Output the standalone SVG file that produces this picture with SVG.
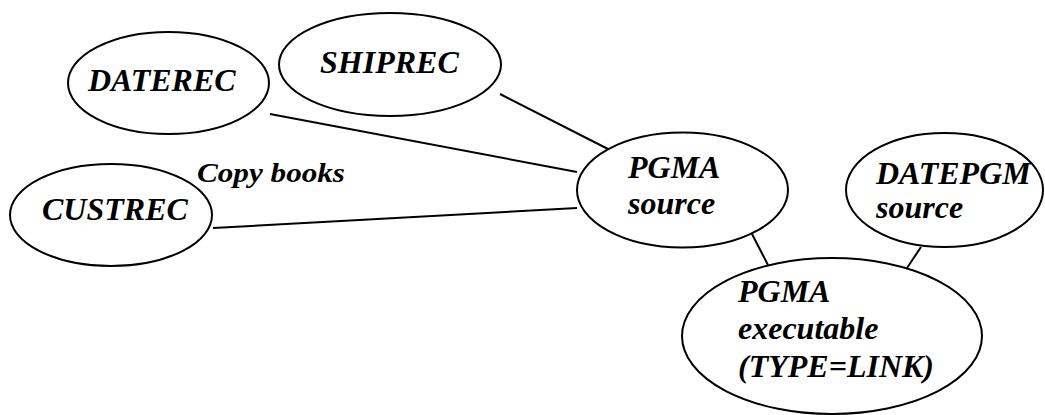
<svg xmlns="http://www.w3.org/2000/svg" width="1045" height="415" viewBox="0 0 1045 415">
<style>
.n{fill:#fff;stroke:#000;stroke-width:2}
.t{font-family:'Liberation Serif','Times New Roman',Times,'DejaVu Serif',serif;font-weight:700;font-style:italic;font-size:32px;fill:#000}
.c{stroke:#000;stroke-width:2;fill:none}
</style>
<rect width="1045" height="415" fill="#fff"/>
<g id="connectors">
<line class="c" x1="270" y1="114" x2="577" y2="172"/>
<line class="c" x1="500" y1="94" x2="608" y2="149"/>
<line class="c" x1="213" y1="228" x2="577" y2="208"/>
<line class="c" x1="752" y1="234" x2="768" y2="265"/>
<line class="c" x1="921" y1="247" x2="907" y2="268"/>
</g>
<g id="daterec"><ellipse class="n" cx="168.5" cy="83" rx="100.5" ry="51"/><text class="t" x="88" y="91">DATEREC</text></g>
<g id="shiprec"><ellipse class="n" cx="390" cy="64.5" rx="111" ry="51.5"/><text class="t" x="320" y="73">SHIPREC</text></g>
<g id="custrec"><ellipse class="n" cx="111" cy="215" rx="101" ry="51"/><text class="t" x="42" y="220">CUSTREC</text></g>
<g id="copybooks"><text class="t" x="197" y="182" style="font-size:28px" textLength="148" lengthAdjust="spacingAndGlyphs">Copy books</text></g>
<g id="pgmasource"><ellipse class="n" cx="682.5" cy="190" rx="105.5" ry="57.5"/><text class="t" x="628" y="178">PGMA</text><text class="t" x="628" y="214">source</text></g>
<g id="datepgm"><ellipse class="n" cx="944.5" cy="190" rx="98.5" ry="57"/><text class="t" x="876" y="184">DATEPGM</text><text class="t" x="876" y="218">source</text></g>
<g id="pgmaexec"><ellipse class="n" cx="832" cy="336" rx="150" ry="78"/><text class="t" x="738" y="302">PGMA</text><text class="t" x="738" y="339">executable</text><text class="t" x="738" y="377">(TYPE=LINK)</text></g>
</svg>
